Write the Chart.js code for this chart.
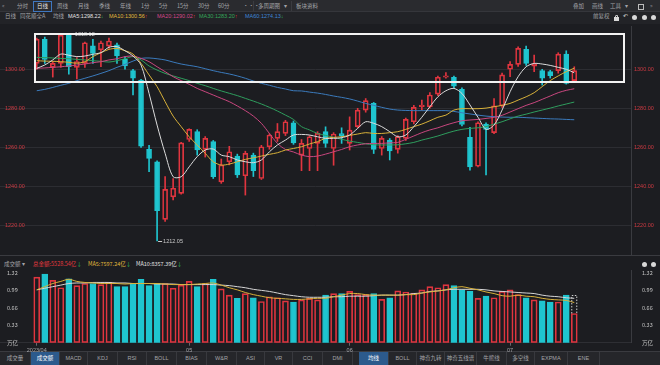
<!DOCTYPE html>
<html><head><meta charset="utf-8">
<script src="https://cdn.jsdelivr.net/npm/chart.js@4.4.0/dist/chart.umd.min.js"></script>
<style>
*{box-sizing:border-box}
html,body{margin:0;padding:0;background:#1c1d21;}
#w{position:relative;width:660px;height:365px;overflow:hidden;background:#1c1d21;font-family:"Noto Sans CJK SC","Noto Sans",sans-serif;font-size:5.5px;color:#a3a4a8;}
.t{position:absolute;white-space:nowrap;line-height:1;}
.r1{top:4.2px}.r2{top:14px}.vh{top:261.5px}
.n{font-family:"Liberation Sans",Arial,sans-serif}
.bg{position:absolute;left:0;width:660px}
canvas{position:absolute;left:0}
.tab{position:absolute;top:352px;height:13px;border-right:1px solid #38393e;text-align:center;line-height:12px;white-space:nowrap;color:#a3a4a8}
.act{background:#2c5a8c;color:#fff}
.up{color:#e5393f}.dn{color:#2fc05c}
.ic{position:absolute;width:5px;height:5px;border-radius:50%;background:#d8d8d8}
</style></head>
<body><div id="w">
<div class="bg" style="top:0;height:12px;background:#2a2b2f;border-bottom:1px solid #35363b"></div>
<div class="bg" style="top:12px;height:12px;background:#222327"></div>
<div class="bg" style="top:255px;height:1px;background:#3a3b40"></div>
<div class="bg" style="top:351px;height:14px;background:#25262a;border-top:1px solid #3a3b40"></div>

<!-- row 1 -->
<span class="t r1" style="left:2px">«</span>
<span class="t r1" style="left:17px">分时</span>
<div style="position:absolute;left:33px;top:1px;width:19px;height:11px;border:1px solid #3f77c0"></div>
<span class="t r1" style="left:37px;color:#e8e8e8">日线</span>
<span class="t r1" style="left:57px">周线</span>
<span class="t r1" style="left:78px">月线</span>
<span class="t r1" style="left:99px">季线</span>
<span class="t r1" style="left:120px">年线</span>
<span class="t r1" style="left:141px">1分</span>
<span class="t r1" style="left:159px">5分</span>
<span class="t r1" style="left:177px">15分</span>
<span class="t r1" style="left:198px">30分</span>
<span class="t r1" style="left:218px">60分</span>
<span class="t r1" style="left:243px">···</span>
<div style="position:absolute;left:253px;top:1px;width:1px;height:10px;background:#3a3b40"></div>
<span class="t r1" style="left:258px">多周期图</span>
<span class="t r1" style="left:284px">▾</span>
<div style="position:absolute;left:291px;top:1px;width:1px;height:10px;background:#3a3b40"></div>
<span class="t r1" style="left:296px">板块资料</span>
<span class="t r1" style="left:573px">叠加</span>
<span class="t r1" style="left:592px">画线</span>
<span class="t r1" style="left:610px">工具</span>
<span class="t r1" style="left:625px">▾</span>
<div style="position:absolute;left:638px;top:4px;width:6px;height:6px;border:1px dashed #bbb"></div>
<span class="t r1" style="left:650px">»</span>

<!-- row 2 -->
<span class="t r2" style="left:5px">日线</span>
<span class="t r2" style="left:20px">同花顺全A</span>
<span class="t r2" style="left:53px">均线</span>
<span class="t r2 n" style="left:68px;color:#e2e2e2">MA5:1298.22<span class="dn">↓</span></span>
<span class="t r2 n" style="left:109px;color:#e0b93c">MA10:1300.56<span class="up">↑</span></span>
<span class="t r2 n" style="left:157px;color:#d6478a">MA20:1290.02<span class="up">↑</span></span>
<span class="t r2 n" style="left:199px;color:#35a85a">MA30:1283.20<span class="up">↑</span></span>
<span class="t r2 n" style="left:245px;color:#3f86d6">MA60:1274.13<span class="dn">↓</span></span>
<span class="t r2" style="left:593px">前复权</span>
<div style="position:absolute;left:614px;top:17px;width:5px;height:4px;background:#d8d8d8"></div>
<div style="position:absolute;left:615px;top:14.5px;width:3px;height:3px;border:1px solid #d8d8d8;border-bottom:none;border-radius:2px 2px 0 0"></div>
<span class="t r2" style="left:623px;color:#d8d8d8">↶</span>
<div class="ic" style="left:632px;top:14.5px"></div>
<div class="ic" style="left:642px;top:14.5px"></div>
<div class="ic" style="left:651px;top:14.5px"></div>

<!-- volume header -->
<span class="t vh" style="left:4px">成交额 ▾</span>
<span class="t vh" style="left:33px;color:#e5393f">总金额:5528.54亿<span class="dn">↓</span></span>
<span class="t vh" style="left:88px;color:#e0b93c">MA5:7597.24亿<span class="dn">↓</span></span>
<span class="t vh" style="left:136px;color:#e2e2e2">MA10:8357.39亿<span class="dn">↓</span></span>
<div class="ic" style="left:642px;top:261.5px"></div>
<div class="ic" style="left:651px;top:261.5px"></div>

<!-- bottom tabs -->
<div class="tab" style="left:0;width:31px">成交量</div>
<div class="tab act" style="left:31px;width:29px">成交额</div>
<div class="tab n" style="left:60px;width:28px">MACD</div>
<div class="tab n" style="left:88px;width:30px">KDJ</div>
<div class="tab n" style="left:118px;width:29px">RSI</div>
<div class="tab n" style="left:147px;width:30px">BOLL</div>
<div class="tab n" style="left:177px;width:30px">BIAS</div>
<div class="tab n" style="left:207px;width:30px">W&amp;R</div>
<div class="tab n" style="left:237px;width:28px">ASI</div>
<div class="tab n" style="left:265px;width:28px">VR</div>
<div class="tab n" style="left:293px;width:30px">CCI</div>
<div class="tab n" style="left:323px;width:30px">DMI</div>
<div class="tab act" style="left:359px;width:30px">均线</div>
<div class="tab n" style="left:389px;width:28px">BOLL</div>
<div class="tab" style="left:417px;width:28px">神奇九转</div>
<div class="tab" style="left:445px;width:32px">神奇五线谱</div>
<div class="tab" style="left:477px;width:30px">牛熊线</div>
<div class="tab" style="left:507px;width:28px">多空线</div>
<div class="tab n" style="left:535px;width:33px">EXPMA</div>
<div class="tab n" style="left:568px;width:32px">ENE</div>

<canvas id="pc" width="660" height="249" style="top:16px"></canvas>
<canvas id="vc" width="660" height="101" style="top:256px"></canvas>
<div style="position:absolute;left:34px;top:33px;width:591px;height:50px;border:2px solid #f2f2f2;z-index:5"></div>
</div>
<script>
// ---- data (daily, 2023-04-03 .. 2023-07-11) ----
const open=[1303.0,1315.4,1301.0,1303.0,1317.8,1301.0,1303.0,1312.0,1310.0,1311.9,
1312.6,1305.1,1299.3,1294.5,1258.9,1252.6,1223.0,1234.6,1236.4,1264.0,
1268.0,1258.9,1262.9,1242.3,1252.6,1255.5,1245.4,1256.0,1244.0,1260.3,
1264.6,1267.1,1272.6,1256.0,1259.4,1262.0,1268.0,1259.4,1267.0,1262.0,
1270.6,1279.1,1282.5,1259.4,1263.7,1258.9,1264.6,1273.1,1280.8,1280.8,
1287.3,1295.9,1295.9,1289.7,1265.1,1250.3,1271.9,1267.5,1281.2,1300.0,
1302.5,1310.2,1301.6,1299.3,1298.8,1299.3,1307.8,1294.2];
const close=[1315.4,1305.0,1303.0,1317.5,1301.3,1304.0,1313.6,1308.2,1313.6,1314.5,
1306.8,1301.7,1295.4,1260.6,1254.3,1227.5,1238.4,1239.0,1262.3,1269.2,
1258.6,1264.6,1244.9,1250.9,1257.7,1245.8,1256.9,1248.0,1260.3,1266.3,
1268.0,1273.1,1262.3,1262.0,1265.4,1267.1,1262.0,1266.8,1266.0,1268.8,
1279.1,1283.9,1258.9,1264.6,1258.2,1265.4,1274.3,1280.5,1281.6,1286.8,
1295.9,1296.6,1291.4,1271.7,1250.0,1272.6,1269.2,1281.2,1297.1,1302.5,
1310.7,1303.0,1302.9,1295.4,1296.7,1307.8,1292.8,1299.3];
const high=[1316.0,1316.5,1304.0,1318.0,1318.12,1306.0,1314.0,1315.4,1314.5,1316.0,
1313.5,1306.5,1300.0,1294.8,1261.0,1253.0,1245.0,1244.0,1262.5,1269.5,
1269.0,1265.5,1263.5,1254.0,1260.5,1256.5,1258.0,1257.0,1261.0,1267.0,
1272.2,1273.8,1273.5,1264.0,1266.0,1268.0,1270.5,1267.5,1270.0,1275.6,
1280.0,1285.0,1283.0,1265.5,1264.5,1266.0,1275.0,1281.5,1284.2,1288.0,
1296.5,1298.3,1296.5,1290.5,1270.2,1273.0,1272.5,1285.0,1298.0,1303.9,
1311.5,1311.9,1307.3,1300.0,1299.5,1308.5,1309.5,1301.3];
const low=[1300.0,1303.0,1296.0,1301.0,1297.5,1295.0,1301.0,1303.0,1301.3,1310.7,
1303.0,1300.0,1286.8,1260.0,1247.5,1212.05,1222.0,1233.0,1236.0,1263.0,
1256.0,1255.0,1244.0,1241.5,1251.0,1244.5,1235.5,1245.0,1243.5,1259.0,
1263.0,1266.0,1261.5,1248.0,1248.0,1248.0,1260.0,1250.8,1262.0,1258.6,
1270.0,1278.0,1256.8,1256.0,1253.5,1257.0,1263.5,1272.0,1279.0,1280.0,
1286.5,1295.5,1290.5,1271.0,1248.3,1250.0,1245.8,1267.0,1280.5,1296.2,
1301.5,1302.0,1298.8,1291.9,1295.5,1298.0,1292.4,1293.5];
const ma5=[1300.5,1302.2,1304.8,1307.8,1307.2,1306.5,1306.8,1307.7,1308.5,1311.3,
1311.6,1309.5,1306.8,1302.2,1287.6,1271.4,1256.9,1244.9,1244.9,1250.0,
1255.2,1258.6,1259.1,1256.0,1255.2,1253.5,1252.6,1252.1,1253.5,1257.7,
1261.2,1263.7,1266.3,1266.6,1266.3,1265.4,1264.6,1264.6,1264.9,1266.3,
1269.7,1273.1,1272.3,1270.6,1268.0,1265.4,1266.3,1270.6,1275.4,1280.8,
1285.9,1289.0,1290.2,1287.6,1281.7,1275.4,1269.2,1271.4,1279.1,1288.5,
1296.2,1301.3,1303.0,1302.7,1302.0,1301.0,1300.0,1298.22];
const ma10=[1304.4,1304.2,1304.1,1303.9,1303.6,1303.1,1303.9,1306.5,1308.5,1310.2,
1310.7,1309.5,1307.8,1303.1,1297.1,1291.1,1283.4,1276.0,1270.6,1265.4,
1261.2,1256.9,1252.6,1250.9,1251.4,1252.6,1253.8,1254.6,1255.5,1256.4,
1257.2,1258.6,1259.4,1260.3,1261.7,1262.9,1264.6,1265.1,1265.4,1266.1,
1266.8,1267.5,1267.1,1267.1,1267.5,1268.0,1269.2,1270.6,1271.9,1273.6,
1275.4,1276.5,1279.1,1279.8,1279.8,1279.8,1280.1,1280.8,1281.5,1282.5,
1284.2,1285.9,1288.0,1291.1,1294.2,1296.6,1298.8,1300.56];
const ma20=[1300.5,1300.7,1301.0,1301.3,1301.7,1302.2,1302.7,1303.4,1303.9,1304.8,
1305.4,1306.5,1306.8,1305.6,1303.9,1301.3,1298.8,1296.2,1294.2,1292.3,
1290.2,1288.5,1286.8,1285.1,1283.4,1281.2,1278.8,1276.0,1272.3,1267.1,
1262.0,1258.9,1257.6,1256.0,1255.2,1255.5,1256.5,1257.7,1258.9,1260.3,
1261.2,1261.8,1262.0,1262.0,1262.3,1262.5,1264.1,1265.8,1267.5,1268.9,
1270.0,1271.4,1272.6,1273.6,1274.0,1274.3,1274.8,1275.4,1276.4,1278.1,
1279.8,1281.5,1282.9,1284.6,1286.3,1288.0,1289.2,1290.02];
const ma30=[1306.1,1306.0,1305.8,1305.6,1305.4,1305.1,1304.8,1304.4,1304.1,1303.7,
1304.4,1305.4,1306.5,1304.8,1301.7,1299.6,1297.9,1296.6,1295.4,1294.2,
1292.8,1291.6,1290.2,1288.9,1287.7,1286.5,1285.1,1283.7,1282.2,1280.5,
1278.6,1276.5,1274.3,1270.6,1268.9,1267.1,1266.1,1265.1,1264.1,1263.2,
1262.5,1261.8,1261.3,1261.2,1261.2,1261.3,1261.8,1262.5,1263.7,1264.7,
1265.8,1267.1,1268.3,1269.2,1269.7,1270.0,1270.6,1271.9,1273.1,1274.6,
1276.0,1277.0,1278.1,1279.1,1280.1,1281.2,1282.2,1283.20];
const ma60=[1289.0,1289.7,1290.7,1291.8,1292.8,1294.2,1295.4,1296.6,1297.9,1299.3,
1301.0,1302.5,1304.2,1305.6,1305.8,1305.4,1304.8,1303.7,1302.7,1302.0,
1301.3,1300.3,1299.3,1298.4,1297.6,1296.6,1295.4,1294.0,1292.8,1291.8,
1290.7,1289.9,1289.0,1288.9,1288.3,1287.8,1287.1,1286.3,1285.6,1284.8,
1283.7,1282.5,1281.5,1280.5,1279.6,1279.1,1278.9,1278.8,1278.8,1278.8,
1278.8,1278.8,1278.4,1277.7,1277.1,1276.5,1276.0,1275.7,1275.5,1275.4,
1275.4,1275.2,1275.0,1274.8,1274.6,1274.5,1274.3,1274.13];
// turnover, 万亿
const volume=[1.24,1.30,1.18,1.04,1.21,1.08,1.12,1.12,1.10,1.14,
1.06,1.06,1.12,1.20,1.08,1.12,1.12,1.03,1.09,1.16,
1.06,1.12,1.20,1.02,0.90,0.84,0.93,0.85,0.78,0.87,
0.85,0.79,0.77,0.81,0.84,0.81,0.90,0.93,0.93,0.97,
0.91,0.91,0.93,0.82,0.85,0.98,0.96,0.94,1.00,1.06,
1.04,1.10,1.08,1.00,0.97,0.84,0.88,0.85,0.97,1.00,
0.91,0.85,0.81,0.79,0.77,0.77,0.90,0.5529];
const volEstimateLast=0.90;
const vma5=[1.00,1.06,1.12,1.16,1.20,1.16,1.14,1.13,1.12,1.12,
1.12,1.11,1.12,1.12,1.12,1.12,1.11,1.10,1.10,1.10,
1.11,1.12,1.13,1.09,1.04,1.00,0.95,0.91,0.88,0.85,
0.84,0.83,0.82,0.82,0.83,0.84,0.84,0.87,0.90,0.93,
0.93,0.91,0.90,0.90,0.90,0.90,0.91,0.91,0.94,0.96,
0.98,1.00,1.04,1.06,1.03,1.00,0.96,0.93,0.89,0.88,
0.90,0.88,0.87,0.84,0.82,0.81,0.80,0.76];
const vma10=[1.00,1.03,1.06,1.09,1.12,1.13,1.13,1.14,1.14,1.14,
1.13,1.13,1.12,1.12,1.12,1.11,1.11,1.11,1.10,1.10,
1.10,1.10,1.10,1.09,1.08,1.06,1.04,1.01,0.99,0.97,
0.94,0.91,0.89,0.87,0.86,0.86,0.86,0.87,0.87,0.88,
0.88,0.88,0.89,0.90,0.90,0.90,0.91,0.93,0.94,0.97,
0.98,1.00,1.01,1.01,1.01,1.01,1.00,0.98,0.97,0.96,
0.95,0.94,0.93,0.90,0.88,0.87,0.85,0.84];
const priceTicks=[1220,1240,1260,1280,1300];
const volTicks=[0,0.33,0.66,0.99,1.32];
const monthTickIndex=[0,19,39,59];
const monthTickLabels=['2023/04','05','06','07'];

// ---- styles / layout ----
const RED='#e0353f', CYAN='#1fc5cf';
const X_MIN=-4.58, X_MAX=74.07;
const P_MIN=1204.77, P_MAX=1322.2;
const V_MIN=0, V_MAX=1.370;
const n=open.length;
const idx=[...Array(n).keys()];
const up=idx.map(i=>close[i]>=open[i]);
const pts=a=>a.map((v,i)=>({x:i,y:v}));
const numFont={family:'"Liberation Sans", Arial, sans-serif',size:5.5};
const line=(d,c)=>({type:'line',data:pts(d),borderColor:c,borderWidth:1,pointRadius:0,tension:0.3,order:0});
const wide=s=>{s.width=29;}, zero=s=>{s.width=0;};

const extremes={id:'extremes',afterDatasetsDraw(chart){
  const {ctx,scales:{x,y}}=chart;
  const hi=Math.max(...high), lo=Math.min(...low);
  const marks=[[high.indexOf(hi),hi],[low.indexOf(lo),lo]];
  ctx.save();
  ctx.font='5.5px "Liberation Sans", Arial, sans-serif';
  ctx.fillStyle='#c9c9c9'; ctx.strokeStyle='#c9c9c9'; ctx.lineWidth=1; ctx.textBaseline='middle';
  marks.forEach(([i,v])=>{
    const px=x.getPixelForValue(i)+1, py=Math.round(y.getPixelForValue(v))+0.5;
    ctx.beginPath(); ctx.moveTo(px,py); ctx.lineTo(px+4,py); ctx.stroke();
    ctx.fillText(v.toFixed(2),px+5,py);
  });
  ctx.restore();
}};

new Chart(document.getElementById('pc'),{
  type:'bar',
  data:{datasets:[
    line(ma5,'#dcdcdc'), line(ma10,'#d9b23a'), line(ma20,'#c9477f'), line(ma30,'#2f9e5e'), line(ma60,'#3b7bbd'),
    {label:'body',data:idx.map(i=>({x:i,y:[open[i],close[i]]})),
     backgroundColor:idx.map(i=>up[i]?'rgba(0,0,0,0)':CYAN),borderColor:idx.map(i=>up[i]?RED:CYAN),
     borderWidth:1,borderSkipped:false,barThickness:5,grouped:false,order:1},
    {label:'upperWick',data:idx.map(i=>({x:i,y:[Math.max(open[i],close[i]),high[i]]})),
     backgroundColor:idx.map(i=>up[i]?RED:CYAN),barThickness:1,grouped:false,order:2},
    {label:'lowerWick',data:idx.map(i=>({x:i,y:[low[i],Math.min(open[i],close[i])]})),
     backgroundColor:idx.map(i=>up[i]?RED:CYAN),barThickness:1,grouped:false,order:2}
  ]},
  options:{animation:false,responsive:false,events:[],
    layout:{padding:{top:10,bottom:10,left:0,right:0}},
    plugins:{legend:{display:false},tooltip:{enabled:false}},
    scales:{
      x:{type:'linear',min:X_MIN,max:X_MAX,offset:false,display:false},
      y:{position:'left',min:P_MIN,max:P_MAX,afterFit:zero,
         afterBuildTicks:s=>{s.ticks=priceTicks.map(v=>({value:v}));},
         ticks:{mirror:true,padding:5,color:'#cc3a42',font:numFont,callback:v=>Number(v).toFixed(2)},
         grid:{color:'#2c2d32',drawTicks:false},border:{display:false}},
      y2:{position:'right',min:P_MIN,max:P_MAX,afterFit:wide,
         afterBuildTicks:s=>{s.ticks=priceTicks.map(v=>({value:v}));},
         ticks:{padding:3,color:'#cc3a42',font:numFont,callback:v=>Number(v).toFixed(2)},
         grid:{display:false,drawTicks:false},border:{display:true,color:'#3a3b40'}}
    }},
  plugins:[extremes]
});

const volEst={id:'volEst',afterDatasetsDraw(chart){
  const {ctx,scales:{x,y}}=chart;
  const i=volume.length-1, px=x.getPixelForValue(i);
  const yTop=Math.round(y.getPixelForValue(volEstimateLast))+0.5, yBot=y.getPixelForValue(volume[i]);
  ctx.save(); ctx.setLineDash([1.5,1.5]); ctx.strokeStyle='#cfcfcf'; ctx.lineWidth=1;
  ctx.beginPath(); ctx.moveTo(px-2.5,yBot); ctx.lineTo(px-2.5,yTop); ctx.lineTo(px+2.5,yTop); ctx.lineTo(px+2.5,yBot); ctx.stroke();
  ctx.restore();
}};

new Chart(document.getElementById('vc'),{
  type:'bar',
  data:{datasets:[
    line(vma5,'#d9b23a'), line(vma10,'#d6d6d6'),
    {label:'vol',data:pts(volume),backgroundColor:idx.map(i=>up[i]?'rgba(0,0,0,0)':CYAN),
     borderColor:idx.map(i=>up[i]?RED:CYAN),borderWidth:1,borderSkipped:false,barThickness:6,grouped:false,order:1}
  ]},
  options:{animation:false,responsive:false,events:[],
    layout:{padding:{top:10,bottom:0,left:0,right:0}},
    plugins:{legend:{display:false},tooltip:{enabled:false}},
    scales:{
      x:{type:'linear',min:X_MIN,max:X_MAX,offset:false,position:'bottom',afterFit:s=>{s.height=10;},
         afterBuildTicks:s=>{s.ticks=monthTickIndex.map(v=>({value:v}));},
         ticks:{autoSkip:false,maxRotation:0,padding:1,color:'#a3a4a8',font:numFont,callback:(v,i)=>monthTickLabels[i]},
         grid:{offset:false,drawOnChartArea:false,drawTicks:true,tickLength:3,color:'#6a6b70'},border:{display:true,color:'#2e2f34'}},
      y:{position:'left',min:V_MIN,max:V_MAX,afterFit:zero,
         afterBuildTicks:s=>{s.ticks=volTicks.map(v=>({value:v}));},
         ticks:{mirror:true,padding:7,color:'#c4c4c4',font:{family:'"Noto Sans CJK SC", sans-serif',size:5.5},callback:v=>v===0?'万亿':Number(v).toFixed(2)},
         grid:{display:false,drawTicks:false},border:{display:false}},
      y2:{position:'right',min:V_MIN,max:V_MAX,afterFit:wide,
         afterBuildTicks:s=>{s.ticks=volTicks.map(v=>({value:v}));},
         ticks:{padding:11,color:'#c4c4c4',font:{family:'"Noto Sans CJK SC", sans-serif',size:5.5},callback:v=>v===0?'万亿':Number(v).toFixed(2)},
         grid:{display:false,drawTicks:false},border:{display:true,color:'#3a3b40'}}
    }},
  plugins:[volEst]
});
</script>
</body></html>
